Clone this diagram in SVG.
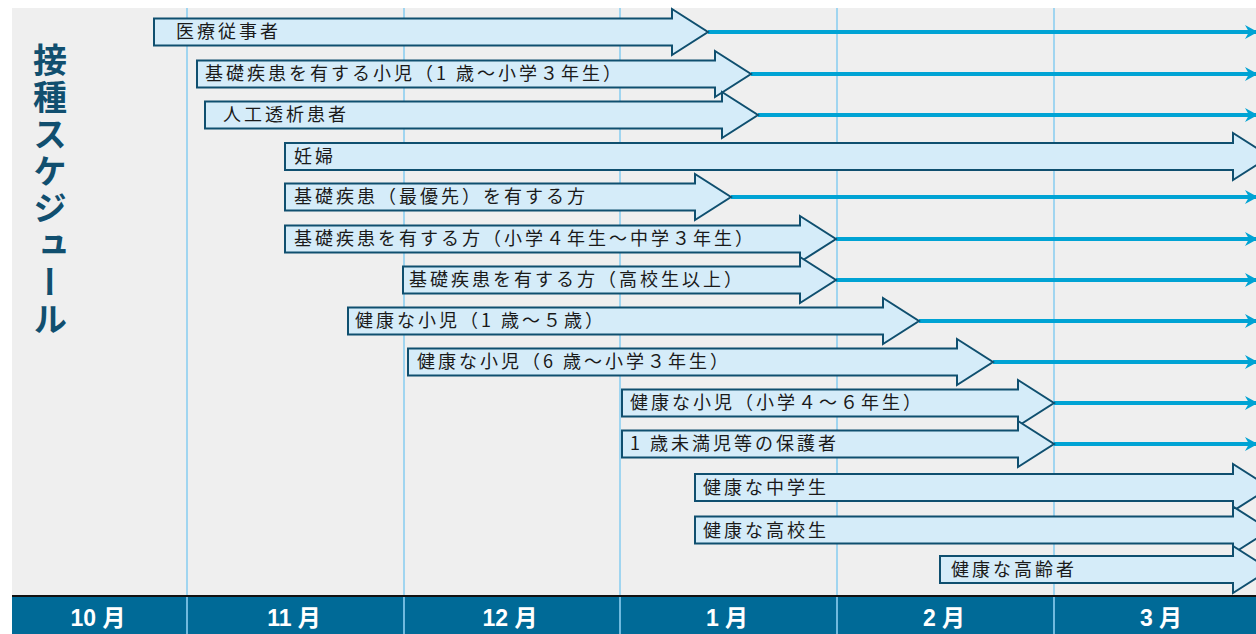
<svg xmlns="http://www.w3.org/2000/svg" width="1256" height="634" viewBox="0 0 1256 634">
<style>
.bg{fill:#efefef}
.grid{stroke:#8ccff0;stroke-width:1.6}
.arr{fill:#d5ecf9;stroke:#0f4f6f;stroke-width:2;stroke-linejoin:miter}
.lbl{font-family:"Noto Sans CJK JP","Noto Sans",sans-serif;font-size:18px;letter-spacing:3px;fill:#1a1a1a}
.line{stroke:#00a3d4;stroke-width:3.8;fill:none}
.month{font-family:"Liberation Sans","Noto Sans CJK JP",sans-serif;font-size:23px;font-weight:bold;fill:#ffffff;text-anchor:middle}
.title{font-family:"Noto Sans CJK JP",sans-serif;font-size:34px;font-weight:bold;fill:#114f6f;letter-spacing:3px}
</style>
<defs>
<marker id="ah" markerUnits="userSpaceOnUse" markerWidth="14" markerHeight="16" refX="13" refY="8" orient="auto">
<path d="M0,1 L13,8 L0,15 L4,8 Z" fill="#00a3d4"/>
</marker>
</defs>
<rect x="0" y="0" width="1256" height="634" fill="#ffffff"/>
<rect class="bg" x="12" y="8" width="1244" height="589"/>
<g id="grid">
<line class="grid" x1="187" y1="8" x2="187" y2="634"/>
<line class="grid" x1="404" y1="8" x2="404" y2="634"/>
<line class="grid" x1="620" y1="8" x2="620" y2="634"/>
<line class="grid" x1="837" y1="8" x2="837" y2="634"/>
<line class="grid" x1="1054" y1="8" x2="1054" y2="634"/>
</g>
<g id="title">
<text class="title" x="50" y="43" writing-mode="vertical-rl">接種スケジュール</text>
</g>
<g id="connectors">
<line class="line" x1="708" y1="32" x2="1258" y2="32" marker-end="url(#ah)"/>
<line class="line" x1="751" y1="74" x2="1258" y2="74" marker-end="url(#ah)"/>
<line class="line" x1="758" y1="115" x2="1258" y2="115" marker-end="url(#ah)"/>
<line class="line" x1="731" y1="197" x2="1258" y2="197" marker-end="url(#ah)"/>
<line class="line" x1="836" y1="239" x2="1258" y2="239" marker-end="url(#ah)"/>
<line class="line" x1="836" y1="280" x2="1258" y2="280" marker-end="url(#ah)"/>
<line class="line" x1="919" y1="321" x2="1258" y2="321" marker-end="url(#ah)"/>
<line class="line" x1="993" y1="362" x2="1258" y2="362" marker-end="url(#ah)"/>
<line class="line" x1="1054" y1="403" x2="1258" y2="403" marker-end="url(#ah)"/>
<line class="line" x1="1054" y1="444" x2="1258" y2="444" marker-end="url(#ah)"/>
</g>
<g id="r1"><path class="arr" d="M154,18.5 H672 V9 L708,32 L672,55 V45.5 H154 Z"/><text class="lbl" x="176" y="38">医療従事者</text></g>
<g id="r2"><path class="arr" d="M197,60.5 H715 V51 L751,74 L715,97 V87.5 H197 Z"/><text class="lbl" x="205" y="80">基礎疾患を有する小児（1 歳〜小学３年生）</text></g>
<g id="r3"><path class="arr" d="M205,101.5 H722 V92 L758,115 L722,138 V128.5 H205 Z"/><text class="lbl" x="223" y="121">人工透析患者</text></g>
<g id="r4"><path class="arr" d="M285,143 H1233 V133 L1270,156.5 L1233,180 V170 H285 Z"/><text class="lbl" x="294" y="162.5">妊婦</text></g>
<g id="r5"><path class="arr" d="M285,183.5 H695 V174 L731,197 L695,220 V210.5 H285 Z"/><text class="lbl" x="294" y="203">基礎疾患（最優先）を有する方</text></g>
<g id="r6"><path class="arr" d="M285,225.5 H800 V216 L836,239 L800,262 V252.5 H285 Z"/><text class="lbl" x="294" y="245">基礎疾患を有する方（小学４年生〜中学３年生）</text></g>
<g id="r7"><path class="arr" d="M403,266.5 H800 V257 L836,280 L800,303 V293.5 H403 Z"/><text class="lbl" x="409" y="286">基礎疾患を有する方（高校生以上）</text></g>
<g id="r8"><path class="arr" d="M348,307.5 H883 V298 L919,321 L883,344 V334.5 H348 Z"/><text class="lbl" x="355" y="327">健康な小児（1 歳〜５歳）</text></g>
<g id="r9"><path class="arr" d="M408,348.5 H957 V339 L993,362 L957,385 V375.5 H408 Z"/><text class="lbl" x="417" y="368">健康な小児（6 歳〜小学３年生）</text></g>
<g id="r10"><path class="arr" d="M622,389.5 H1018 V380 L1054,403 L1018,426 V416.5 H622 Z"/><text class="lbl" x="630" y="409">健康な小児（小学４〜６年生）</text></g>
<g id="r11"><path class="arr" d="M622,430.5 H1018 V421 L1054,444 L1018,467 V457.5 H622 Z"/><text class="lbl" x="630" y="450">1 歳未満児等の保護者</text></g>
<g id="r12"><path class="arr" d="M695,474 H1233 V464 L1270,487.5 L1233,511 V501 H695 Z"/><text class="lbl" x="703" y="494">健康な中学生</text></g>
<g id="r13"><path class="arr" d="M695,516.5 H1233 V506.5 L1270,530 L1233,553.5 V543.5 H695 Z"/><text class="lbl" x="703" y="536.5">健康な高校生</text></g>
<g id="r14"><path class="arr" d="M940,556 H1233 V546 L1270,569.5 L1233,593 V583 H940 Z"/><text class="lbl" x="951" y="576">健康な高齢者</text></g>
<g id="axis">
<rect x="12" y="597" width="1244" height="37" fill="#006a97"/>
<line x1="12" y1="596" x2="1256" y2="596" stroke="#111111" stroke-width="2"/>
<line class="grid" x1="187" y1="597" x2="187" y2="634"/>
<line class="grid" x1="404" y1="597" x2="404" y2="634"/>
<line class="grid" x1="620" y1="597" x2="620" y2="634"/>
<line class="grid" x1="837" y1="597" x2="837" y2="634"/>
<line class="grid" x1="1054" y1="597" x2="1054" y2="634"/>
<text class="month" x="98" y="626">10 月</text>
<text class="month" x="294" y="626">11 月</text>
<text class="month" x="510" y="626">12 月</text>
<text class="month" x="727" y="626">1 月</text>
<text class="month" x="944" y="626">2 月</text>
<text class="month" x="1161" y="626">3 月</text>
</g>
</svg>
